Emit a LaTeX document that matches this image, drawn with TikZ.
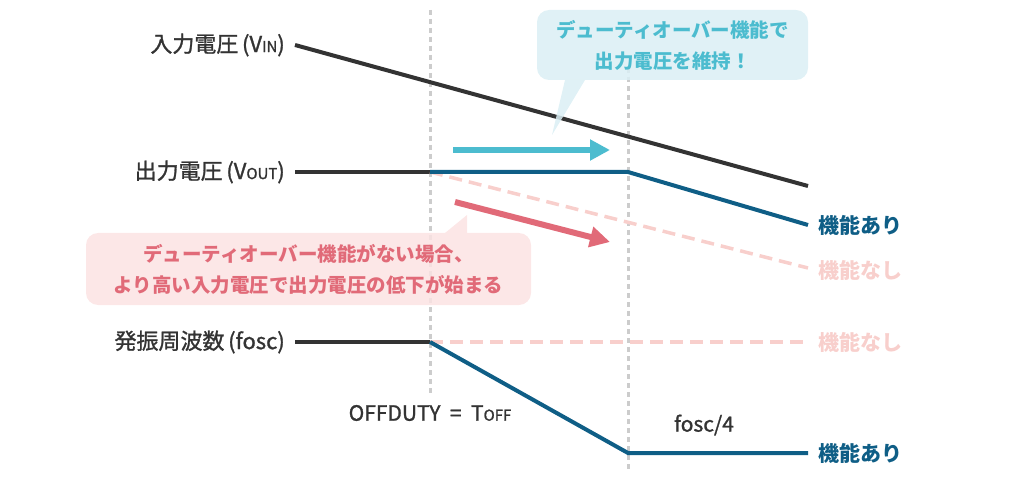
\documentclass[tikz,border=0pt]{standalone}
\usepackage{fontspec}
\setmainfont{Noto Sans CJK JP}
\newfontfamily\midfont[FakeBold=1.2]{Noto Sans CJK JP}
\usetikzlibrary{arrows.meta,positioning,calc}
\definecolor{ink}{HTML}{333333}
\definecolor{blu}{HTML}{0F5E86}
\definecolor{pnk}{HTML}{F8CFCC}
\definecolor{cyn}{HTML}{4CBCCF}
\definecolor{cynbg}{HTML}{DBEFF4}
\definecolor{rd}{HTML}{E16A78}
\definecolor{rdbg}{HTML}{FBE3E3}
\definecolor{grd}{HTML}{CCCCCC}
\newcommand{\lowcap}[1]{{\fontsize{15}{15}\selectfont #1}}
\tikzset{
  lbl/.style={font=\midfont\fontsize{22}{24}\selectfont,text=ink,anchor=east,inner sep=0pt},
  tag/.style={font=\bfseries\fontsize{21}{23}\selectfont,anchor=west,inner sep=0pt},
  sig/.style={line width=4pt,draw=ink},
  on/.style={line width=4pt,draw=blu},
  off/.style={line width=3.5pt,draw=pnk,dash pattern=on 13pt off 7pt},
  guide/.style={line width=3pt,draw=grd,dash pattern=on 5pt off 4pt},
  ar/.style={-{Triangle[length=20pt,width=20pt]},line width=6pt},
  bub/.style={rounded corners=12pt,align=center,inner sep=0pt,fill opacity=.85,text opacity=1,
    font=\bfseries\fontsize{19.5}{31}\selectfont},
}

\begin{document}
\begin{tikzpicture}[x=1pt,y=-1pt]
\useasboundingbox (0,0) rectangle (1024,478);
% guides
\coordinate (g1t) at (430,10); \coordinate (g1b) at (430,393);
\coordinate (g2t) at (628,68); \coordinate (g2b) at (628,470);
\draw[guide] (g1t)--(g1b); \draw[guide] (g2t)--(g2b);
% labels
\node[lbl] (vin) at (285,45) {入力電圧\,(V\lowcap{IN})};
\node[lbl] (vout) at (285,172) {出力電圧\,(V\lowcap{OUT})};
\node[lbl] (fosc) at (285,342) {発振周波数\,(fosc)};
% input voltage
\coordinate (vi0) at (295,45); \coordinate (vi1) at (808,186);
\draw[sig] (vi0)--(vi1);
% output voltage
\coordinate (vo0) at (295,172); \coordinate (voK) at (430,172);
\coordinate (voM) at (628,172); \coordinate (voE) at (808,225); \coordinate (voX) at (808,268);
\node[tag,text=blu] (voOn) at (818,225) {機能あり};
\node[tag,text=pnk] (voOff) at (818,270) {機能なし};
\draw[sig] (vo0)--(voK);
\draw[off] (voK)--(voX);
\draw[on] (voK)--(voM)--(voE);
% frequency
\coordinate (fo0) at (295,342); \coordinate (foK) at (430,342);
\coordinate (foX) at (808,342); \coordinate (foM) at (628,453); \coordinate (foE) at (808,453);
\node[tag,text=pnk] (foOff) at (818,342) {機能なし};
\node[tag,text=blu] (foOn) at (818,453) {機能あり};
\draw[sig] (fo0)--(foK);
\draw[off] (foK)--(foX);
\draw[on] (foK)--(foM)--(foE);
\node[font=\midfont\fontsize{21}{23}\selectfont,text=ink] (toff) at (430,413)
  {OFFDUTY\hspace{0.45em}=\hspace{0.45em}T\lowcap{OFF}};
\node[font=\midfont\fontsize{21}{23}\selectfont,text=ink] (quarter) at (704,425) {fosc/4};
% arrows
\coordinate (ca0) at (453,150); \coordinate (ca1) at (610,150);
\draw[ar,draw=cyn,fill=cyn] (ca0)--(ca1);
\coordinate (ra0) at (455,202); \coordinate (ra1) at (610,242);
\draw[ar,draw=rd,fill=rd] (ra0)--(ra1);
% callouts
\node[bub,fill=cynbg,text=cyn,minimum width=271pt,minimum height=70pt] (keep) at (672.5,45)
  {デューティオーバー機能で\\出力電圧を維持！};
\fill[cynbg,fill opacity=.85] (565,80)--(585,80)--(552,135)--cycle;
\node[bub,fill=rdbg,text=rd,minimum width=445pt,minimum height=72pt] (drop) at (308.5,269)
  {デューティオーバー機能がない場合、\\より高い入力電圧で出力電圧の低下が始まる};
\fill[rdbg,fill opacity=.85] (445,233)--(467,233)--(467,215)--cycle;
\end{tikzpicture}
\end{document}
